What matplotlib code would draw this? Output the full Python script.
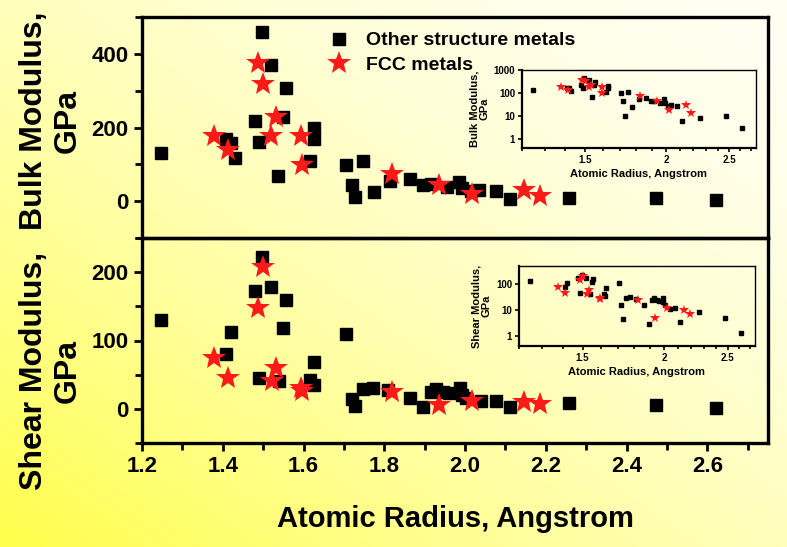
'''
Bulk and shear modulus of metals vs. atomic radius,
two stacked panels with log-log insets.
'''

import numpy as np
import matplotlib.pyplot as plt
from matplotlib.ticker import (FixedLocator, MultipleLocator, NullLocator,
                               NullFormatter, FuncFormatter)

plt.rcParams['font.family'] = ['Liberation Sans', 'DejaVu Sans']
plt.rcParams['font.weight'] = 'bold'
plt.rcParams['axes.labelweight'] = 'bold'

# DATA
# Bulk modulus, GPa
bulk_other_r = [1.246, 1.409, 1.420, 1.430, 1.479, 1.489, 1.496, 1.520, 1.537,
                1.549, 1.557, 1.617, 1.625, 1.627, 1.705, 1.719, 1.728, 1.748,
                1.774, 1.814, 1.863, 1.895, 1.915, 1.956, 1.985, 1.993, 2.014,
                2.035, 2.077, 2.112, 2.257, 2.472, 2.621]
bulk_other_k = [130, 170, 158, 118, 218, 160, 460, 370, 68,
                229, 308, 110, 168, 198, 98, 43, 10, 110,
                25, 55, 59, 43, 46, 38, 52, 37, 28,
                30, 27, 6, 8, 9.5, 3.1]
bulk_fcc_r = [1.378, 1.412, 1.486, 1.500, 1.520, 1.531, 1.593, 1.596, 1.820,
              1.936, 2.018, 2.146, 2.185]
bulk_fcc_k = [177, 139, 376, 317, 177, 229, 177, 98, 75,
              43, 19, 30, 14]

# Shear modulus, GPa
shear_other_r = [1.246, 1.409, 1.420, 1.479, 1.489, 1.496, 1.520, 1.539, 1.549,
                 1.557, 1.615, 1.625, 1.627, 1.705, 1.719, 1.728, 1.748, 1.771,
                 1.808, 1.863, 1.896, 1.915, 1.928, 1.946, 1.960, 1.987, 1.993,
                 2.002, 2.039, 2.077, 2.112, 2.257, 2.472, 2.621]
shear_other_g = [130, 80, 113, 172, 45, 222, 178, 41, 119,
                 160, 42, 35, 68, 110, 15, 4.3, 29, 31,
                 27, 16, 2.8, 25, 29, 25, 23, 30, 20,
                 16, 11, 12, 3.3, 8, 5, 1.3]
shear_fcc_r = [1.378, 1.412, 1.486, 1.500, 1.522, 1.533, 1.593, 1.596, 1.820,
               1.936, 2.018, 2.146, 2.185]
shear_fcc_g = [74, 45, 148, 208, 41, 60, 30, 26, 25,
               5, 12, 10, 7]

LABEL_OTHER = "Other structure metals"
LABEL_FCC = "FCC metals"

# SETTINGS
FIG_W, FIG_H = 787, 547
SPINE_W = 2.4
STAR_RED = '#ff1a1a'


def fig_rect(left, top, right, bottom):
    # pixel box -> figure fraction rect
    return [left / FIG_W, 1 - bottom / FIG_H,
            (right - left) / FIG_W, (bottom - top) / FIG_H]


def style_main(ax):
    ax.patch.set_alpha(0)
    for sp in ax.spines.values():
        sp.set_linewidth(SPINE_W)
    ax.tick_params(which='both', direction='out', width=2, labelsize=16)
    ax.tick_params(which='major', length=6)
    ax.tick_params(which='minor', length=5)
    ax.tick_params(axis='y', right=False)
    ax.set_xlim(1.2, 2.75)


def style_inset(ax, ylim, yticks, ylabel):
    ax.patch.set_alpha(0)
    ax.set_xscale('log')
    ax.set_yscale('log')
    ax.set_xlim(1.2, 2.75)
    ax.set_ylim(*ylim)
    for name, sp in ax.spines.items():
        sp.set_linewidth(1.6 if name in ('left', 'bottom') else 1.0)
    fmt = FuncFormatter(lambda v, p: '%g' % v)
    ax.xaxis.set_major_locator(FixedLocator([1.5, 2.0, 2.5]))
    ax.xaxis.set_major_formatter(fmt)
    ax.xaxis.set_minor_locator(FixedLocator(np.arange(1.2, 2.75, 0.1)))
    ax.xaxis.set_minor_formatter(NullFormatter())
    ax.yaxis.set_major_locator(FixedLocator(yticks))
    ax.yaxis.set_major_formatter(fmt)
    ax.yaxis.set_minor_locator(NullLocator())
    ax.tick_params(which='both', direction='out', width=1.2, labelsize=7,
                   pad=2)
    ax.tick_params(which='major', length=3)
    ax.tick_params(which='minor', length=2.5)
    ax.set_xlabel("Atomic Radius, Angstrom", fontsize=8, labelpad=3)
    ax.set_ylabel(ylabel, fontsize=8, labelpad=3, linespacing=1.0)


##########################
# 1. Figure and gradient background
fig = plt.figure(figsize=(FIG_W / 100, FIG_H / 100), dpi=100)
bg = fig.add_axes([0, 0, 1, 1], zorder=-10)
gx, gy = np.meshgrid(np.linspace(0, 1, 300), np.linspace(1, 0, 200))
s = 0.5 * (1 - gx) + 0.5 * (1 - gy)
blue = 0.95 - 0.66 * s ** 1.6
rgb = np.dstack([np.ones_like(s), np.ones_like(s) * 0.998, blue])
bg.imshow(rgb, aspect='auto', extent=[0, 1, 0, 1], interpolation='bilinear')
bg.axis('off')

# 2. Main panels
ax_top = fig.add_axes(fig_rect(142, 17, 768, 238))
ax_bot = fig.add_axes(fig_rect(142, 238, 768, 443), sharex=ax_top)
style_main(ax_top)
style_main(ax_bot)

ax_top.plot(bulk_other_r, bulk_other_k, 's', color='black', ms=8,
            label=LABEL_OTHER)
ax_top.plot(bulk_fcc_r, bulk_fcc_k, '*', color=STAR_RED, ms=18, mew=0,
            label=LABEL_FCC)
ax_top.set_ylim(-100, 500)
ax_top.yaxis.set_major_locator(MultipleLocator(200))
ax_top.yaxis.set_minor_locator(MultipleLocator(100))
ax_top.tick_params(axis='x', which='both', bottom=False, labelbottom=False)

ax_bot.plot(shear_other_r, shear_other_g, 's', color='black', ms=8)
ax_bot.plot(shear_fcc_r, shear_fcc_g, '*', color=STAR_RED, ms=18, mew=0)
ax_bot.set_ylim(-50, 250)
ax_bot.yaxis.set_major_locator(MultipleLocator(100))
ax_bot.yaxis.set_minor_locator(MultipleLocator(50))
ax_bot.xaxis.set_major_locator(MultipleLocator(0.2))
ax_bot.xaxis.set_minor_locator(MultipleLocator(0.1))
ax_bot.xaxis.set_major_formatter(FuncFormatter(lambda v, p: '%.1f' % v))
ax_bot.set_xlabel("Atomic Radius, Angstrom", fontsize=21, labelpad=20)

ax_top.set_ylabel("Bulk Modulus,\nGPa", fontsize=23, linespacing=1.2)
ax_bot.set_ylabel("Shear Modulus,\nGPa", fontsize=23, linespacing=1.2)
ax_top.yaxis.set_label_coords(-0.094, 0.53)
ax_bot.yaxis.set_label_coords(-0.094, 0.35)

leg = ax_top.legend(loc='upper left', bbox_to_anchor=(318 / FIG_W, 1 - 22 / FIG_H),
                    bbox_transform=fig.transFigure, frameon=False,
                    fontsize=14, borderpad=0, handlelength=1.2,
                    handletextpad=0.75, labelspacing=0.35)

# 3. Log-log insets
ins_top = fig.add_axes(fig_rect(522, 70, 756, 148))
ins_top.plot(bulk_other_r, bulk_other_k, 's', color='black', ms=3)
ins_top.plot(bulk_fcc_r, bulk_fcc_k, '*', color=STAR_RED, ms=7, mew=0)
style_inset(ins_top, (0.4, 1000), [1, 10, 100, 1000], "Bulk Modulus,\nGPa")

ins_bot = fig.add_axes(fig_rect(519, 266, 755, 346))
ins_bot.plot(shear_other_r, shear_other_g, 's', color='black', ms=3)
ins_bot.plot(shear_fcc_r, shear_fcc_g, '*', color=STAR_RED, ms=7, mew=0)
style_inset(ins_bot, (0.4, 500), [1, 10, 100], "Shear Modulus,\nGPa")

fig.savefig('out.png', dpi=100)
